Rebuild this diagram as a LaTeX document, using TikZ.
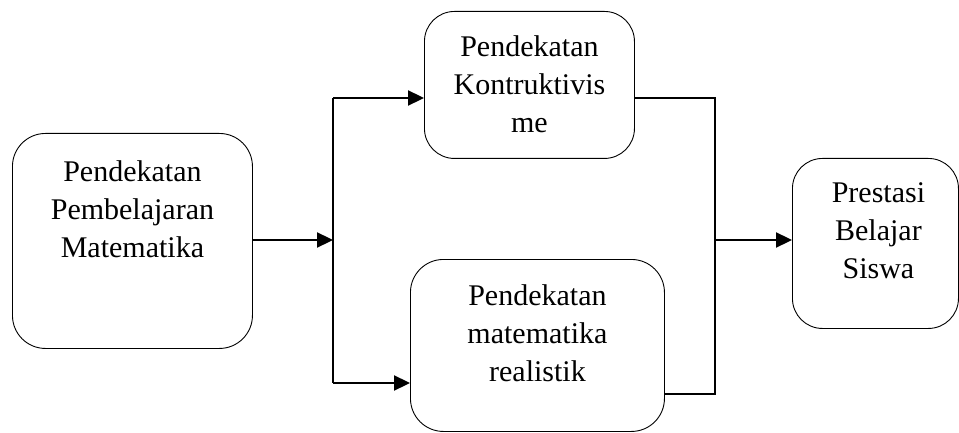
\documentclass[tikz,border=0pt]{standalone}
\usepackage{fontspec}
\setmainfont{Liberation Serif}
\usetikzlibrary{arrows.meta}
\begin{document}
\begin{tikzpicture}[x=1pt,y=-1pt,
  box/.style={draw,line width=0.9pt,rectangle,inner sep=0pt,anchor=north west},
  txt/.style={align=center,inner sep=0pt,anchor=north,
    font=\fontsize{30}{38}\selectfont},
  link/.style={line width=2.3pt},
  arr/.style={link,-{Triangle[length=16pt,width=15pt]}}]
\useasboundingbox (0,0) rectangle (959,433);

% boxes
\node[box,minimum width=240pt,minimum height=215pt,rounded corners=33pt] (b1) at (12,133) {};
\node[box,minimum width=210pt,minimum height=147pt,rounded corners=30pt] (b2) at (424,11) {};
\node[box,minimum width=254pt,minimum height=172pt,rounded corners=33pt] (b3) at (410,259) {};
\node[box,minimum width=166pt,minimum height=170pt,rounded corners=30pt] (b4) at (792,158) {};

% labels
\node[txt] (t1) at ([yshift=-27pt]b1.north) {Pendekatan\\Pembelajaran\\Matematika};
\node[txt] (t2) at ([yshift=-24pt]b2.north) {Pendekatan\\Kontruktivis\\me};
\node[txt] (t3) at ([yshift=-25pt]b3.north) {Pendekatan\\matematika\\realistik};
\node[txt,xshift=3pt] (t4) at ([yshift=-24pt]b4.north) {Prestasi\\Belajar\\Siswa};

% junction points
\coordinate (j1) at (333,240);
\coordinate (ja) at (333,98);
\coordinate (jb) at (333,383);
\coordinate (ka) at (715,98);
\coordinate (kb) at (715,394);
\coordinate (kc) at (715,240);

% connectors
\draw[arr] (b1.east |- j1) -- (j1);
\draw[link] (ja) -- (jb);
\draw[arr] (ja) -- (ja -| b2.west);
\draw[arr] (jb) -- (jb -| b3.west);
\draw[link] (b2.east |- ka) -- (ka) -- (kb) -- (kb -| b3.east);
\draw[arr] (kc) -- (kc -| b4.west);
\end{tikzpicture}
\end{document}
